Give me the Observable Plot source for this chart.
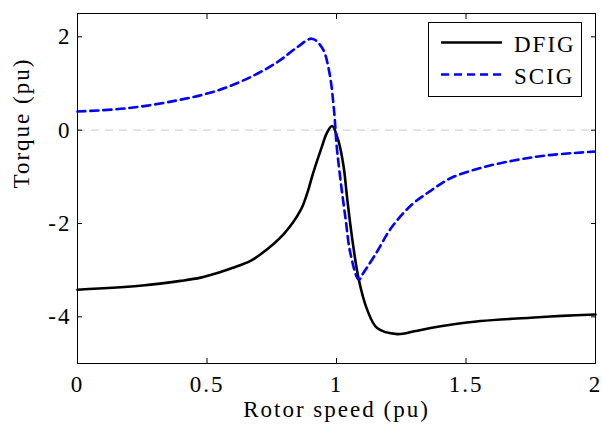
<!DOCTYPE html>
<html><head><meta charset="utf-8">
<script src="https://cdn.jsdelivr.net/npm/d3@7"></script>
<script src="https://cdn.jsdelivr.net/npm/@observablehq/plot@0.6"></script>
<style>
body{margin:0;background:#fff;}
#wrap{position:relative;width:602px;height:428px;font-family:"Liberation Serif","Times New Roman",serif;}
#wrap svg text{font-family:"Liberation Serif","Times New Roman",serif !important;}
#legend{position:absolute;left:428px;top:22px;width:154px;height:75px;border:1px solid #000;background:#fff;box-sizing:border-box;}
</style>
</head><body>
<div id="wrap"><div id="chart"></div><div id="legend"></div></div>
<script>
const seriesNames = ["DFIG", "SCIG"];
const speedDFIG = [0, 0.25, 0.398, 0.475, 0.552, 0.6, 0.668, 0.707, 0.797, 0.861, 0.887, 0.906, 0.925, 0.945, 0.963, 0.983, 1.009, 1.028, 1.041, 1.061, 1.086, 1.118, 1.157, 1.234, 1.3, 1.363, 1.44, 1.556, 1.749, 1.87, 2.0];
const torqueDFIG = [-3.42, -3.33, -3.23, -3.16, -3.04, -2.95, -2.8, -2.66, -2.22, -1.72, -1.35, -0.99, -0.66, -0.33, -0.06, 0.09, -0.26, -0.8, -1.45, -2.34, -3.2, -3.84, -4.24, -4.37, -4.31, -4.24, -4.17, -4.09, -4.02, -3.98, -3.95];
const speedSCIG = [0, 0.193, 0.386, 0.541, 0.669, 0.772, 0.849, 0.905, 0.946, 0.972, 0.991, 1.0, 1.015, 1.035, 1.054, 1.086, 1.105, 1.157, 1.208, 1.286, 1.363, 1.44, 1.556, 1.685, 1.813, 1.994];
const torqueSCIG = [0.40, 0.47, 0.64, 0.85, 1.14, 1.46, 1.78, 1.96, 1.75, 1.25, 0.39, -0.30, -1.05, -1.9, -2.65, -3.2, -3.05, -2.6, -2.12, -1.62, -1.30, -1.03, -0.81, -0.65, -0.54, -0.46];
const xTicks = [0, 0.5, 1, 1.5, 2];
const yTicks = [-4, -2, 0, 2];
const zeroLine = [0];

const dfig = speedDFIG.map((s, i) => ({speed: s, torque: torqueDFIG[i]}));
const scig = speedSCIG.map((s, i) => ({speed: s, torque: torqueSCIG[i]}));

const font = '"Liberation Serif","Times New Roman",serif';
const chart = Plot.plot({
  width: 602, height: 428,
  marginLeft: 77, marginRight: 7, marginTop: 13, marginBottom: 65,
  style: {fontFamily: font, fontSize: "23px", color: "#000", background: "#fff", letterSpacing: "2px"},
  x: {domain: [0, 2]},
  y: {domain: [-5, 2.5]},
  marks: [
    Plot.ruleY(zeroLine, {stroke: "#d4d4d4", strokeWidth: 1.2, strokeDasharray: "8,6"}),
    Plot.line(dfig, {x: "speed", y: "torque", stroke: "#000", strokeWidth: 2.6, curve: "catmull-rom"}),
    Plot.line(scig, {x: "speed", y: "torque", stroke: "#0000ff", strokeWidth: 2.6, strokeDasharray: "8,5", curve: "catmull-rom"}),
    Plot.frame({stroke: "#000", strokeWidth: 1}),
    Plot.axisX(xTicks, {anchor: "bottom", tickSize: -5, tickPadding: 17, label: null, fontSize: 23, tickFormat: d => String(d)}),
    Plot.axisX(xTicks, {anchor: "top", tickSize: -5, tickFormat: () => "", label: null}),
    Plot.axisY(yTicks, {anchor: "left", tickSize: -5, tickPadding: 11, label: null, fontSize: 23, tickFormat: d => String(d)}),
    Plot.axisY(yTicks, {anchor: "right", tickSize: -5, tickFormat: () => "", label: null}),
    Plot.text(["Rotor speed (pu)"], {frameAnchor: "bottom", dy: 53, fontSize: 23, text: d => d}),
    Plot.text(["Torque (pu)"], {frameAnchor: "left", dx: -56, rotate: -90, fontSize: 23, text: d => d})
  ]
});
document.getElementById("chart").appendChild(chart);

// legend
const leg = d3.select("#legend").append("svg").attr("width", 152).attr("height", 73);
const styles = [{stroke: "#000", dash: null}, {stroke: "#0000ff", dash: "8,5"}];
seriesNames.forEach((name, i) => {
  const y = 19.5 + i * 32;
  leg.append("line").attr("x1", 12).attr("x2", 73).attr("y1", y).attr("y2", y)
    .attr("stroke", styles[i].stroke).attr("stroke-width", 2.6).attr("stroke-dasharray", styles[i].dash);
  leg.append("text").attr("x", 85).attr("y", y + 9.5).attr("font-size", 23)
    .attr("letter-spacing", "2px").text(name);
});
</script>
</body></html>
